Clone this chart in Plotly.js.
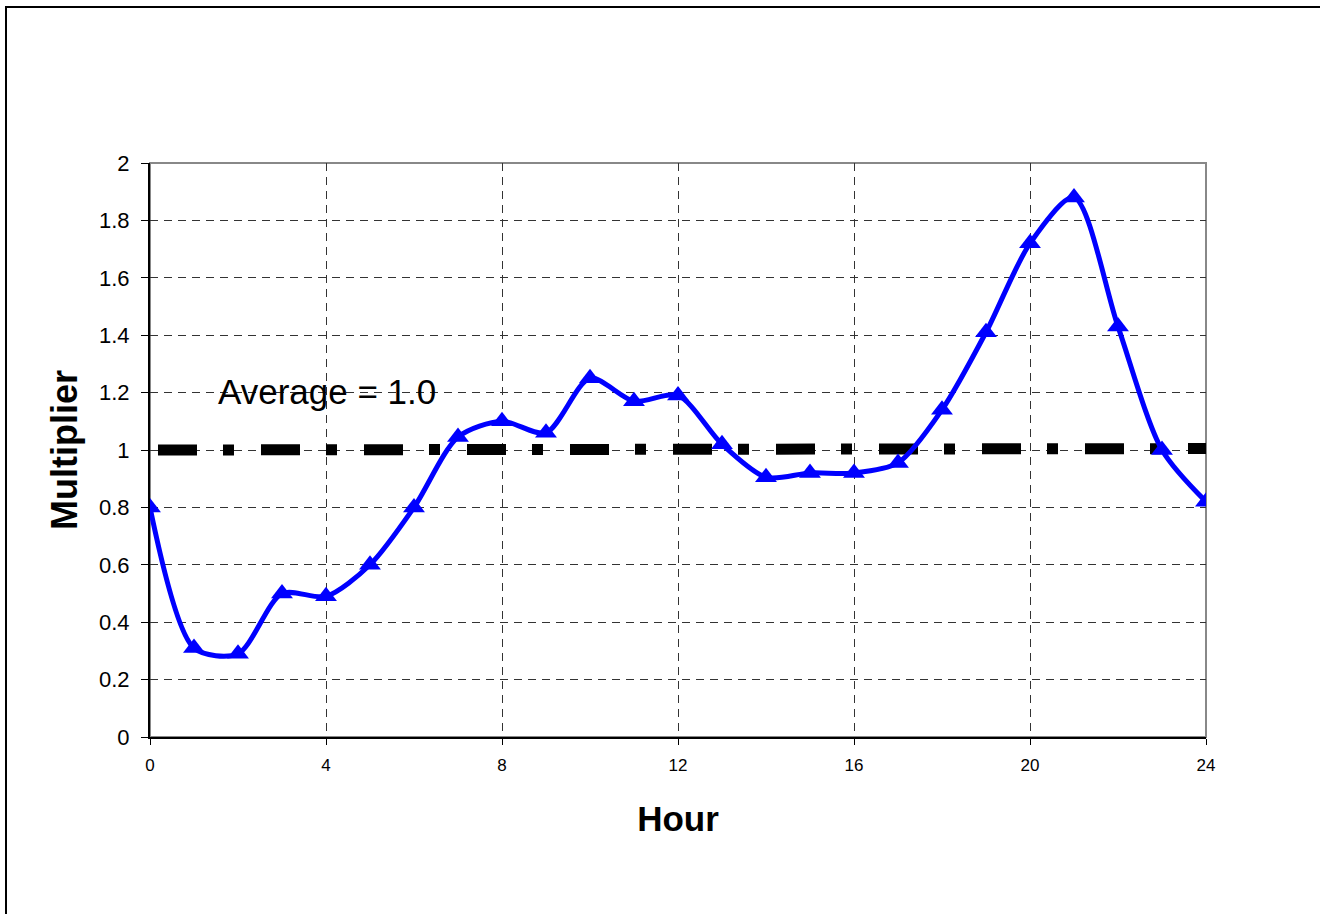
<!DOCTYPE html>
<html>
<head>
<meta charset="utf-8">
<script src="https://cdn.plot.ly/plotly-3.0.1.min.js"></script>
<style>
  html, body { margin: 0; padding: 0; background: #fff; }
  #chart { width: 1320px; height: 914px; }
</style>
</head>
<body>
<div id="chart"></div>
<script>
// Hour of day
const hours = [0, 1, 2, 3, 4, 5, 6, 7, 8, 9, 10, 11, 12, 13, 14, 15, 16, 17, 18, 19, 20, 21, 22, 23, 24];
// Hourly multiplier (blue curve)
const multiplier = [0.80, 0.31, 0.29, 0.50, 0.49, 0.60, 0.80, 1.045, 1.10, 1.06, 1.25, 1.17, 1.19, 1.02, 0.905, 0.92, 0.92, 0.955, 1.14, 1.41, 1.72, 1.88, 1.43, 1.00, 0.82];
// Average line (black dash-dot)
const average = [1.0, 1.0, 1.0, 1.0, 1.0, 1.0, 1.0, 1.0, 1.0, 1.0, 1.0, 1.0, 1.0, 1.0, 1.0, 1.0, 1.0, 1.003, 1.003, 1.003, 1.003, 1.005, 1.005, 1.005, 1.005];
// Tick values
const xTicks = [0, 4, 8, 12, 16, 20, 24];
const yTicks = [0, 0.2, 0.4, 0.6, 0.8, 1, 1.2, 1.4, 1.6, 1.8, 2];
const yTickLabels = ['0', '0.2', '0.4', '0.6', '0.8', '1', '1.2', '1.4', '1.6', '1.8', '2'];

const FONT = 'Liberation Sans, Arial, sans-serif';

const traces = [
  {
    x: hours, y: average, type: 'scatter', mode: 'lines',
    line: { color: '#000000', width: 11, dash: '0px,8px,39px,26px,11px,19px' },
    hoverinfo: 'skip', showlegend: false
  },
  {
    x: hours, y: multiplier, type: 'scatter', mode: 'lines+markers',
    line: { color: '#0000FF', width: 5, shape: 'spline', smoothing: 0.8 },
    marker: { symbol: 'triangle-up', size: 19, color: '#0000FF' },
    showlegend: false
  }
];

const W = 1056, H = 574;
const layout = {
  width: 1320, height: 914,
  margin: { l: 150, r: 114, t: 163, b: 177 },
  paper_bgcolor: '#ffffff', plot_bgcolor: '#ffffff',
  font: { family: FONT, color: '#000' },
  showlegend: false,
  xaxis: {
    range: [0, 24], tickvals: xTicks, ticktext: xTicks.map(String),
    tickfont: { size: 17, family: FONT, color: '#000' },
    ticks: 'outside', ticklen: 6, tickcolor: '#000', tickwidth: 1,
    ticklabelstandoff: 6,
    showline: true, linecolor: '#000', linewidth: 2,
    showgrid: true, gridcolor: '#333', gridwidth: 1, griddash: '8px,6px',
    zeroline: false, automargin: false, fixedrange: true,
    title: { text: '<b>Hour</b>', font: { size: 35, family: FONT, color: '#000' }, standoff: 32 }
  },
  yaxis: {
    range: [0, 2], tickvals: yTicks, ticktext: yTickLabels,
    tickfont: { size: 22, family: FONT, color: '#000' },
    ticks: 'outside', ticklen: 7, tickcolor: '#000', tickwidth: 1,
    ticklabelstandoff: 7,
    showline: true, linecolor: '#000', linewidth: 2,
    showgrid: true, gridcolor: '#333', gridwidth: 1, griddash: '8px,6px',
    zeroline: false, automargin: false, fixedrange: true,
    title: { text: '<b>Multiplier</b>', font: { size: 36, family: FONT, color: '#000' }, standoff: 10 }
  },
  shapes: [
    // plot-area frame (gray top and right edges)
    { type: 'rect', xref: 'paper', yref: 'paper', x0: 0, x1: 1, y0: 0, y1: 1,
      line: { color: '#888888', width: 2 }, layer: 'below' },
    // outer chart border
    { type: 'rect', xref: 'paper', yref: 'paper',
      x0: (6 - 150) / W, x1: (1330 - 150) / W, y0: (737 - 930) / H, y1: (737 - 7) / H,
      line: { color: '#000000', width: 2 }, layer: 'above' }
  ],
  annotations: [
    { x: 1.5, y: 1.205, xref: 'x', yref: 'y', xanchor: 'left', yanchor: 'middle',
      text: 'Average = 1.0', showarrow: false,
      font: { size: 35, family: FONT, color: '#000' } }
  ]
};

Plotly.newPlot('chart', traces, layout, { displayModeBar: false, staticPlot: true });
</script>
</body>
</html>
